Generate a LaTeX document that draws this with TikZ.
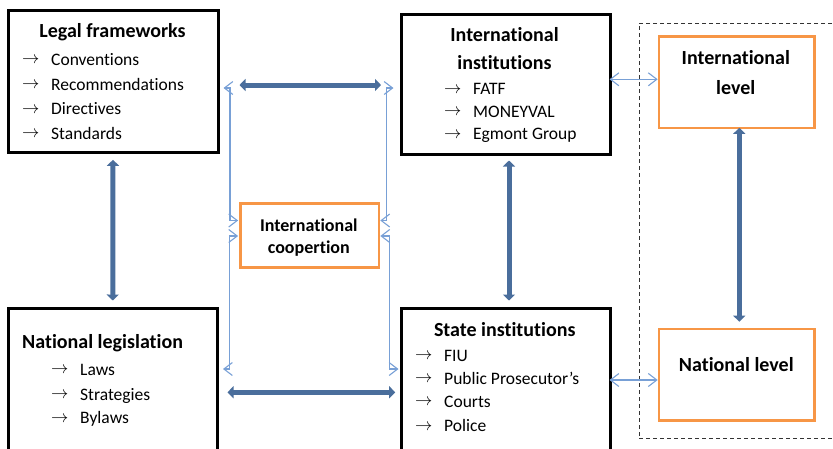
\documentclass[tikz,border=0pt]{standalone}
\usepackage{fontspec}
\setmainfont{Carlito}[Ligatures=NoCommon]
\usetikzlibrary{arrows.meta}

\definecolor{boxorange}{RGB}{247,150,70}
\definecolor{linkblue}{RGB}{74,110,156}
\definecolor{thinblue}{RGB}{120,160,214}

% one bullet line: arrow sign, then the entry text
\newcommand{\itm}[1]{\makebox[29pt][l]{\raisebox{1.2pt}{\fontsize{16}{16}\selectfont$\rightarrow$}}#1}

\begin{document}
\begin{tikzpicture}[x=1pt,y=-1pt,
  frame/.style={draw=black, line width=3pt, inner sep=0pt},
  levelbox/.style={draw=boxorange, line width=2.6pt, inner sep=0pt},
  groupbox/.style={draw=black!80, line width=1pt, dash pattern=on 4pt off 3pt, inner sep=0pt},
  title/.style={font=\fontsize{20}{24}\selectfont\bfseries, inner sep=0pt, anchor=base},
  smalltitle/.style={font=\fontsize{18}{22}\selectfont\bfseries, inner sep=0pt, anchor=base},
  entry/.style={font=\fontsize{17.5}{21}\selectfont, inner sep=0pt, anchor=base west},
  link/.style={draw=linkblue, line width=5pt,
    {Triangle[width=12pt,length=6pt]}-{Triangle[width=12pt,length=6pt]}},
  thinlink/.style={draw=thinblue, line width=1.1pt,
    {Straight Barb[width=13pt,length=8.5pt]}-{Straight Barb[width=13pt,length=8.5pt]}},
]
\useasboundingbox (0,0) rectangle (833,448);

% dashed frame around the two levels
\node[groupbox, minimum width=211pt, minimum height=415pt] (levels) at (744.5,230.5) {};

% main boxes
\node[frame, minimum width=210pt, minimum height=142pt] (lf) at (113,81) {};
\node[frame, minimum width=208.5pt, minimum height=140.5pt] (ii) at (505.75,84.25) {};
\node[frame, minimum width=209.5pt, minimum height=161.5pt] (nl) at (112.75,389.25) {};
\node[frame, minimum width=208.5pt, minimum height=161.5pt] (si) at (505.75,389.25) {};
\node[levelbox, minimum width=138.3pt, minimum height=63.6pt] (ic) at (309.85,235.5) {};
\node[levelbox, minimum width=155.5pt, minimum height=91.7pt] (il) at (736.75,82.15) {};
\node[levelbox, minimum width=155.5pt, minimum height=91.7pt] (nat) at (736.75,374.85) {};

% Legal frameworks
\node[title] (lf-t) at (112.5,37.7) {Legal frameworks};
\node[entry] (lf-1) at (22,65) {\itm{Conventions}};
\node[entry] (lf-2) at (22,90) {\itm{Recommendations}};
\node[entry] (lf-3) at (22,114.5) {\itm{Directives}};
\node[entry] (lf-4) at (22,139) {\itm{Standards}};

% International institutions
\node[title] (ii-t1) at (504.5,41.7) {International};
\node[title] (ii-t2) at (504.5,69.3) {institutions};
\node[entry] (ii-1) at (444,94.3) {\itm{FATF}};
\node[entry] (ii-2) at (444,117) {\itm{MONEYVAL}};
\node[entry] (ii-3) at (444,139.5) {\itm{Egmont Group}};

% National legislation
\node[title, anchor=base west] (nl-t) at (22,348.3) {National legislation};
\node[entry] (nl-1) at (51,375) {\itm{Laws}};
\node[entry] (nl-2) at (51,400) {\itm{Strategies}};
\node[entry] (nl-3) at (51,423.3) {\itm{Bylaws}};

% State institutions
\node[title] (si-t) at (504.7,336.7) {State institutions};
\node[entry] (si-1) at (415,361) {\itm{FIU}};
\node[entry] (si-2) at (415,384) {\itm{Public Prosecutor’s}};
\node[entry] (si-3) at (415,407) {\itm{Courts}};
\node[entry] (si-4) at (415,431.5) {\itm{Police}};

% cooperation and level boxes
\node[smalltitle] (ic-t1) at (308.8,231) {International};
\node[smalltitle] (ic-t2) at (308.8,253.3) {coopertion};
\node[title] (il-t1) at (735.8,64) {International};
\node[title] (il-t2) at (735.8,94.3) {level};
\node[title] (nat-t) at (736.3,371) {National level};

% guide coordinates for the connectors
\coordinate (yA) at (0,85);
\coordinate (yB) at (0,392.3);
\coordinate (xM) at (509,0);
\coordinate (xR) at (739.3,0);
\coordinate (h1) at (0,79.3);
\coordinate (h2) at (0,380);
\coordinate (l1) at (230,88);
\coordinate (l2) at (230,220.5);
\coordinate (l3) at (229.5,236);
\coordinate (l4) at (229.5,369);
\coordinate (r1) at (386.5,88);
\coordinate (r2) at (386.5,220.5);
\coordinate (r3) at (389.5,236);
\coordinate (r4) at (389.5,369);

% thick links
\draw[link, shorten <=20pt, shorten >=19pt] (lf.east |- yA) -- (ii.west |- yA);
\draw[link, shorten <=8.5pt, shorten >=4.8pt] (nl.east |- yB) -- (si.west |- yB);
\draw[link, shorten <=6.3pt, shorten >=6.5pt] (lf.south) -- (nl.north);
\draw[link, shorten <=4.5pt, shorten >=6.5pt] (ii.south -| xM) -- (si.north -| xM);
\draw[link, shorten <=-1.5pt, shorten >=6pt] (il.south -| xR) -- (nat.north -| xR);

% thin links through the cooperation box
\draw[thinlink, shorten <=4pt, shorten >=1.3pt] (lf.east |- l1) -- (l1) -- (l2) -- (ic.west |- l2);
\draw[thinlink, shorten <=1.3pt, shorten >=4pt] (ic.west |- l3) -- (l3) -- (l4) -- (nl.east |- l4);
\draw[thinlink, shorten <=6.5pt] (ii.west |- r1) -- (r1) -- (r2) -- (ic.east |- r2);
\draw[thinlink, shorten >=1.5pt] (ic.east |- r3) -- (r3) -- (r4) -- (si.west |- r4);

% thin links to the levels
\draw[thinlink, shorten <=-2pt] (ii.east |- h1) -- (il.west |- h1);
\draw[thinlink, shorten <=-2pt] (si.east |- h2) -- (nat.west |- h2);
\end{tikzpicture}
\end{document}
